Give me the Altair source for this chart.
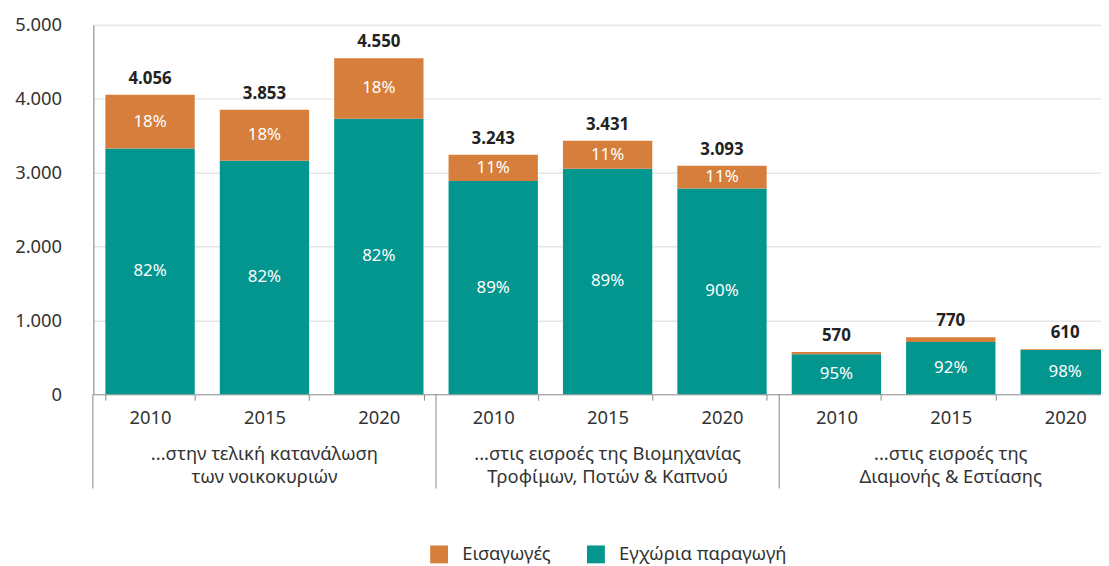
import altair as alt
import pandas as pd

groups = ["A", "B", "C"]
years = ["2010", "2015", "2020"]
group_labels = [
    "...στην τελική κατανάλωση\nτων νοικοκυριών",
    "...στις εισροές της Βιομηχανίας\nΤροφίμων, Ποτών & Καπνού",
    "...στις εισροές της\nΔιαμονής & Εστίασης",
]
totals = [4056, 3853, 4550, 3243, 3431, 3093, 570, 770, 610]
domestic = [3326, 3160, 3731, 2886, 3054, 2784, 542, 708, 598]
imports = [730, 693, 819, 357, 377, 309, 28, 62, 12]
pct_domestic = ["82%", "82%", "82%", "89%", "89%", "90%", "95%", "92%", "98%"]
pct_imports = ["18%", "18%", "18%", "11%", "11%", "11%", "", "", ""]

S_IMP = "Εισαγωγές"
S_DOM = "Εγχώρια παραγωγή"
ORANGE = "#D67E3C"
TEAL = "#03968F"
FONT = "Noto Sans"

ids = [f"{g}|{y}" for g in groups for y in years]

rows = []
for i, bid in enumerate(ids):
    rows.append(dict(id=bid, series=S_DOM, value=domestic[i], order=0,
                     mid=domestic[i] / 2, pct=pct_domestic[i]))
    rows.append(dict(id=bid, series=S_IMP, value=imports[i], order=1,
                     mid=domestic[i] + imports[i] / 2, pct=pct_imports[i]))
df = pd.DataFrame(rows)

tot_df = pd.DataFrame(dict(id=ids, total=totals,
                           label=[f"{v:,}".replace(",", ".") for v in totals]))
grp_df = pd.DataFrame(dict(id=[f"{g}|2015" for g in groups], text=group_labels))
sep_df = pd.DataFrame(dict(id=[f"{g}|2010" for g in groups]))

xscale = alt.Scale(domain=ids, range=[0, 1036], paddingInner=0.219, paddingOuter=0.105)

x_enc = alt.X("id:N", sort=ids, scale=xscale, title=None,
              axis=alt.Axis(labelExpr="split(datum.label, '|')[1]", labelAngle=0,
                            tickBand="extent", tickSize=6, tickColor="#888888",
                            domainColor="#999999", labelPadding=9, labelFontSize=18.5,
                            labelColor="#333333", labelFont=FONT, grid=False))

bars = alt.Chart(df).mark_bar().encode(
    x=x_enc,
    y=alt.Y("value:Q", stack="zero", scale=alt.Scale(domain=[0, 5000]),
            title=None,
            axis=alt.Axis(values=[0, 1000, 2000, 3000, 4000, 5000],
                          labelExpr="replace(format(datum.value, ','), ',', '.')",
                          labelFontSize=18.5, labelColor="#333333", labelFont=FONT,
                          labelPadding=32, ticks=False, domainColor="#888888",
                          gridColor="#E6E6E6", gridWidth=1.5)),
    color=alt.Color("series:N",
                    scale=alt.Scale(domain=[S_IMP, S_DOM], range=[ORANGE, TEAL]),
                    legend=alt.Legend(orient="none", legendX=339, legendY=524,
                                      direction="horizontal", title=None,
                                      symbolType="square", symbolSize=324,
                                      symbolStrokeWidth=0, symbolOpacity=1,
                                      labelFontSize=18.5, labelFont=FONT,
                                      labelColor="#333333", labelOffset=14,
                                      labelLimit=400, columnPadding=36, padding=0)),
    order=alt.Order("order:Q"),
)

pcts = alt.Chart(df).mark_text(color="white", fontSize=17, font=FONT,
                               baseline="middle").encode(
    x=alt.X("id:N", sort=ids, scale=xscale),
    y=alt.Y("mid:Q"),
    text="pct:N",
)

tots = alt.Chart(tot_df).mark_text(color="#222222", fontSize=17, font=FONT,
                                   fontWeight="bold", baseline="alphabetic",
                                   dy=-11).encode(
    x=alt.X("id:N", sort=ids, scale=xscale),
    y=alt.Y("total:Q"),
    text="label:N",
)

grp = alt.Chart(grp_df).mark_text(color="#333333", fontSize=18.5, font=FONT,
                                  baseline="middle", lineBreak="\n",
                                  lineHeight=23).encode(
    x=alt.X("id:N", sort=ids, scale=xscale),
    y=alt.value(432),
    text="text:N",
)

seps = alt.Chart(sep_df).mark_rule(color="#888888", strokeWidth=1,
                                   xOffset=-12.6).encode(
    x=alt.X("id:N", sort=ids, scale=xscale, bandPosition=0),
    y=alt.value(372),
    y2=alt.value(467),
)

chart = alt.layer(bars, pcts, tots, grp, seps).properties(
    width=1015, height=372,
    autosize=alt.AutoSizeParams(type="none"),
    padding={"left": 86, "top": 15, "right": 0, "bottom": 171},
).configure_view(stroke=None).configure(font=FONT)

chart.save("out.html", embed_options={"renderer": "svg", "actions": False})
